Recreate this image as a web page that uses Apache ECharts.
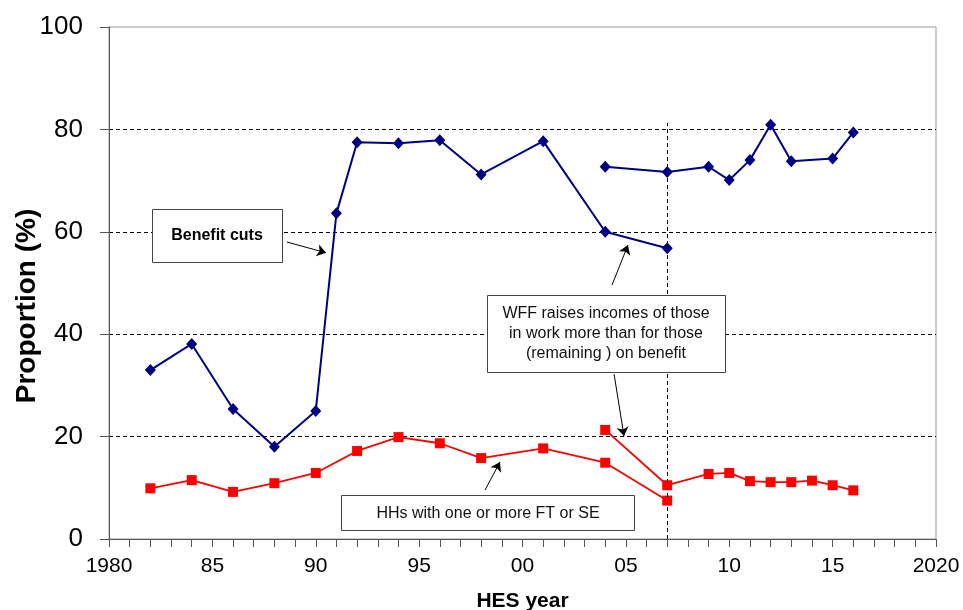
<!DOCTYPE html>
<html>
<head>
<meta charset="utf-8">
<script src="https://cdn.jsdelivr.net/npm/echarts@6/dist/echarts.min.js"></script>
<style>html,body{margin:0;padding:0;background:#fff;}#c{width:963px;height:610px;}</style>
</head>
<body>
<div id="c"></div>
<script>
// Data
var xTickValues = [1980, 1985, 1990, 1995, 2000, 2005, 2010, 2015, 2020];
var xTickLabels = ['1980', '85', '90', '95', '00', '05', '10', '15', '2020'];

var blueYears1 = [1982, 1984, 1986, 1988, 1990, 1991, 1992, 1994, 1996, 1998, 2001, 2004, 2007];
var blueVals1  = [33.0, 38.1, 25.4, 18.0, 25.0, 63.6, 77.5, 77.3, 77.9, 71.2, 77.7, 60.0, 56.8];
var blueYears2 = [2004, 2007, 2009, 2010, 2011, 2012, 2013, 2015, 2016];
var blueVals2  = [72.7, 71.7, 72.7, 70.1, 74.0, 80.9, 73.8, 74.3, 79.4];

var redYears1 = [1982, 1984, 1986, 1988, 1990, 1992, 1994, 1996, 1998, 2001, 2004, 2007];
var redVals1  = [9.9, 11.5, 9.2, 10.9, 12.9, 17.2, 19.9, 18.7, 15.8, 17.7, 14.9, 7.5];
var redYears2 = [2004, 2007, 2009, 2010, 2011, 2012, 2013, 2014, 2015, 2016];
var redVals2  = [21.3, 10.5, 12.7, 12.9, 11.3, 11.1, 11.1, 11.4, 10.5, 9.5];

var breakYear = 2007;
var breakTop = 81.3;

function pairs(xs, ys) { return xs.map(function (x, i) { return [x, ys[i]]; }); }

var FONT = '"Liberation Sans", Arial, sans-serif';
var chart = echarts.init(document.getElementById('c'), null, {renderer: 'canvas'});

function arrow(a, b) {
  return [{coord: a, symbol: 'none'}, {coord: b, symbol: 'arrow'}];
}

var option = {
  animation: false,
  backgroundColor: '#fff',
  grid: {left: 109, right: 27, top: 27, bottom: 71, show: true, borderColor: '#999', borderWidth: 1,
         containLabel: false, outerBoundsMode: 'none'},
  xAxis: {
    type: 'value', min: 1980, max: 2020, interval: 5,
    name: 'HES year', nameLocation: 'middle', nameGap: 52, nameMoveOverlap: false,
    nameTextStyle: {fontFamily: FONT, fontSize: 21, fontWeight: 'bold', color: '#000'},
    axisLine: {show: true, lineStyle: {color: '#555', width: 1}},
    axisTick: {show: true, length: 8, lineStyle: {color: '#555'}},
    minorTick: {show: true, splitNumber: 5, length: 8, lineStyle: {color: '#555'}},
    splitLine: {show: false},
    axisLabel: {
      fontFamily: FONT, fontSize: 21, color: '#000', margin: 17,
      formatter: function (v) { var i = xTickValues.indexOf(v); return i >= 0 ? xTickLabels[i] : ''; }
    }
  },
  yAxis: {
    type: 'value', min: 0, max: 100, interval: 20,
    name: 'Proportion (%)', nameLocation: 'middle', nameGap: 68, nameMoveOverlap: false,
    nameTextStyle: {fontFamily: FONT, fontSize: 28, fontWeight: 'bold', color: '#000', padding: [0, 46, 0, 0]},
    axisLine: {show: true, lineStyle: {color: '#555', width: 1}},
    axisTick: {show: true, length: 9, lineStyle: {color: '#555'}},
    splitLine: {show: true, showMinLine: false, showMaxLine: false, lineStyle: {color: '#000', type: [4, 3], width: 1}},
    axisLabel: {fontFamily: FONT, fontSize: 26, color: '#000', margin: 26}
  },
  series: [
    {
      type: 'line', data: pairs(blueYears1, blueVals1),
      symbol: 'diamond', symbolSize: [11, 12],
      lineStyle: {color: '#000080', width: 2}, itemStyle: {color: '#000080'}, z: 5,
      markLine: {
        silent: true, animation: false, symbolSize: 9,
        label: {show: false},
        lineStyle: {color: '#000', type: 'solid', width: 1},
        data: [
          arrow([1988.61, 58.0], [1990.50, 55.9]),
          arrow([2004.33, 49.6], [2005.10, 57.4]),
          arrow([2004.43, 32.2], [2004.91, 20.1]),
          arrow([1998.19, 9.57], [1998.91, 15.04])
        ]
      }
    },
    {
      type: 'line', data: pairs(blueYears2, blueVals2),
      symbol: 'diamond', symbolSize: [11, 12],
      lineStyle: {color: '#000080', width: 2}, itemStyle: {color: '#000080'}, z: 5,
      markLine: {
        silent: true, animation: false, symbol: 'none',
        label: {show: false},
        lineStyle: {color: '#000', type: [4, 3], width: 1},
        data: [[{coord: [breakYear, 0]}, {coord: [breakYear, breakTop]}]]
      }
    },
    {
      type: 'line', data: pairs(redYears1, redVals1),
      symbol: 'rect', symbolSize: 10,
      lineStyle: {color: '#ff0000', width: 1.8}, itemStyle: {color: '#ff0000'}, z: 4
    },
    {
      type: 'line', data: pairs(redYears2, redVals2),
      symbol: 'rect', symbolSize: 10,
      lineStyle: {color: '#ff0000', width: 1.8}, itemStyle: {color: '#ff0000'}, z: 4
    }
  ],
  graphic: [
    {type: 'rect', z: 100, shape: {x: 152.5, y: 209.5, width: 130, height: 53},
     style: {fill: '#fff', stroke: '#444', lineWidth: 1}},
    {type: 'text', z: 101, x: 217, y: 235.5,
     style: {text: 'Benefit cuts', fontFamily: FONT, fontSize: 16, fontWeight: 'bold', fill: '#000', align: 'center', verticalAlign: 'middle'}},
    {type: 'rect', z: 100, shape: {x: 487.5, y: 295.5, width: 238, height: 77},
     style: {fill: '#fff', stroke: '#444', lineWidth: 1}},
    {type: 'text', z: 101, x: 606, y: 334,
     style: {text: 'WFF raises incomes of those\nin work more than for those\n(remaining ) on benefit', fontFamily: FONT, fontSize: 16, lineHeight: 20, fill: '#111', align: 'center', verticalAlign: 'middle'}},
    {type: 'rect', z: 100, shape: {x: 341.5, y: 495.5, width: 293, height: 35},
     style: {fill: '#fff', stroke: '#444', lineWidth: 1}},
    {type: 'text', z: 101, x: 488, y: 514,
     style: {text: 'HHs with one or more FT or SE', fontFamily: FONT, fontSize: 16, fill: '#111', align: 'center', verticalAlign: 'middle'}}
  ]
};
chart.setOption(option);
</script>
</body>
</html>
